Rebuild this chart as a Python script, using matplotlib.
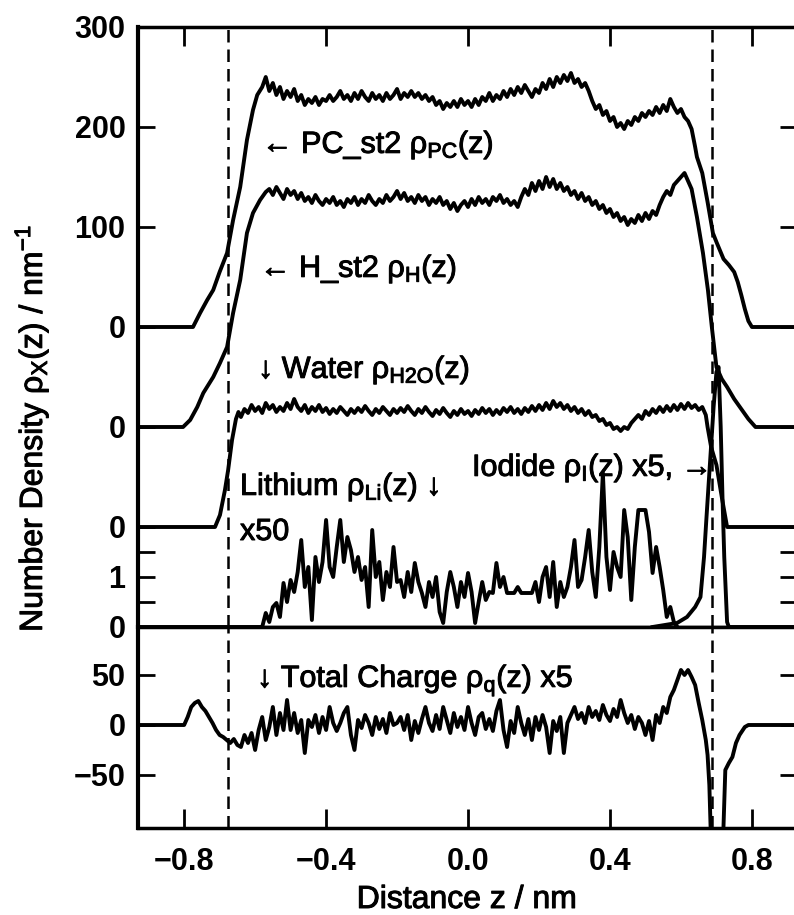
import numpy as np
import matplotlib
matplotlib.use("Agg")
import matplotlib.pyplot as plt
import matplotlib.patheffects as pe

plt.rcParams['font.family'] = ['Liberation Sans', 'DejaVu Sans']
plt.rcParams['mathtext.fontset'] = 'custom'
plt.rcParams['mathtext.rm'] = 'Liberation Sans'
plt.rcParams['mathtext.it'] = 'Liberation Sans'
plt.rcParams['mathtext.default'] = 'regular'

step = 0.01

#PC_st2 density
pc_left_x = [-0.93, -0.775, -0.755, -0.735, -0.718, -0.70, -0.679, -0.662, -0.642, -0.623, -0.606, -0.594]
pc_left_y = [0, 0, 14, 27, 37, 55, 74, 107, 140, 187, 217, 232]
pc_start = -0.58
pc_plateau = [240, 250, 236, 244, 232, 240, 228, 236, 230, 238,
              226, 232, 222, 228, 224, 230, 222, 228, 226, 232,
              226, 230, 236, 228, 232, 226, 234, 228, 236, 230,
              226, 234, 228, 232, 226, 234, 228, 232, 238, 228,
              234, 230, 236, 230, 234, 228, 232, 226, 230, 222,
              226, 218, 224, 220, 226, 220, 228, 222, 226, 220,
              228, 222, 230, 226, 234, 226, 232, 228, 236, 230,
              238, 232, 240, 234, 242, 236, 230, 238, 234, 244,
              238, 248, 240, 250, 244, 252, 246, 254, 244, 248,
              240, 244, 236, 226, 218, 222, 212, 216, 206, 210,
              200, 204, 198, 206, 202, 210, 206, 214, 210, 216,
              212, 220, 214, 222, 216, 228, 220, 214, 218, 210,
              206]
pc_right_x = [0.63, 0.64, 0.645, 0.66, 0.675, 0.69, 0.70, 0.72, 0.735, 0.75, 0.76, 0.77, 0.78, 0.79, 0.80, 0.93]
pc_right_y = [198, 180, 170, 154, 125, 94, 85, 68, 62, 55, 45, 32, 18, 6, 0, 0]

#H_st2 density
h_left_x = [-0.93, -0.803, -0.783, -0.763, -0.746, -0.718, -0.699, -0.679, -0.662, -0.642, -0.623, -0.606, -0.586, -0.57]
h_left_y = [0, 0, 7, 20, 34, 50, 64, 80, 114, 147, 194, 214, 227, 235]
h_start = -0.56
h_plateau = [238, 232, 240, 234, 228, 238, 232, 236, 228, 234,
             226, 230, 224, 232, 226, 222, 228, 224, 230, 222,
             226, 220, 228, 224, 230, 222, 228, 224, 232, 226,
             222, 228, 224, 232, 226, 230, 236, 228, 234, 226,
             230, 224, 232, 226, 230, 222, 228, 224, 230, 222,
             226, 218, 224, 216, 222, 226, 220, 228, 222, 230,
             224, 228, 222, 230, 226, 232, 224, 228, 222, 226,
             220, 230, 238, 232, 244, 236, 246, 238, 250, 240,
             248, 238, 244, 236, 240, 232, 236, 228, 234, 226,
             230, 222, 226, 218, 222, 214, 218, 210, 214, 206,
             210, 202, 208, 204, 212, 206, 214, 208, 216, 212,
             222, 230, 236, 232, 242, 246, 250, 254, 246]
h_right_x = [0.63, 0.645, 0.662, 0.676, 0.687, 0.70, 0.715, 0.73, 0.75, 0.77, 0.79, 0.81, 0.93]
h_right_y = [238, 210, 174, 137, 100, 60, 48, 40, 28, 18, 8, 0, 0]

#Water density
w_left_x = [-0.93, -0.713, -0.699, -0.685, -0.676, -0.665, -0.654, -0.647]
w_left_y = [0, 0, 12, 37, 57, 87, 108, 115]
w_start = -0.64
w_plateau = [110, 118, 114, 122, 116, 120, 114, 124, 118, 122,
             115, 120, 116, 124, 118, 128, 120, 116, 122, 114,
             120, 116, 122, 115, 119, 113, 118, 114, 120, 116,
             112, 118, 114, 119, 115, 121, 116, 112, 118, 114,
             120, 116, 112, 118, 114, 119, 115, 121, 116, 112,
             118, 114, 120, 115, 111, 117, 113, 119, 114, 110,
             116, 112, 118, 113, 116, 111, 117, 113, 119, 114,
             118, 112, 117, 113, 119, 115, 120, 114, 118, 113,
             119, 115, 121, 116, 122, 117, 124, 118, 126, 120,
             124, 118, 122, 116, 120, 114, 118, 112, 116, 110,
             112, 106, 108, 102, 104, 98, 100, 96, 100, 98,
             104, 108, 112, 108, 116, 112, 118, 114, 120, 115,
             121, 116, 122, 117, 123, 118, 124, 119, 122, 117,
             120]
w_right_x = [0.67, 0.675, 0.685, 0.70, 0.715, 0.73, 0.93]
w_right_y = [112, 100, 80, 62, 30, 0, 0]

#Lithium density x50
li_start = -0.58
li_values = [0.0, 0.28, 0.1, 0.4, 0.48, 0.2, 0.88, 0.5, 0.94, 0.7,
             1.1, 1.74, 0.8, 1.2, 0.14, 1.4, 0.9, 1.3, 2.14, 1.2,
             1.0, 1.6, 2.14, 1.3, 1.8, 1.54, 1.1, 1.4, 0.94, 1.2,
             0.4, 1.94, 1.0, 1.3, 0.54, 1.1, 0.8, 1.6, 0.9, 0.94,
             0.6, 1.1, 0.7, 1.28, 0.9, 0.68, 0.4, 0.9, 0.6, 1.0,
             0.3, 0.08, 0.7, 1.1, 0.8, 0.4, 0.9, 0.6, 1.08, 0.7,
             0.08, 0.5, 0.9, 0.54, 0.7, 0.68, 1.28, 0.8, 1.0, 0.68,
             0.68, 0.68, 0.8, 0.68, 0.68, 0.68, 0.68, 0.9, 0.5, 1.0,
             1.2, 0.6, 1.3, 0.4, 0.9, 0.6, 0.8, 1.2, 1.74, 0.8,
             0.94, 1.4, 1.94, 1.1, 0.6, 1.6, 3.08, 1.4, 0.74, 1.5,
             1.2, 1.0, 2.34, 1.8, 0.54, 1.6, 2.34, 2.34, 2.34, 1.9,
             1.08, 1.6, 1.2, 0.74, 0.2, 0.4, 0.1, 0.0]

#Iodide density x5
io_x = [0.52, 0.589, 0.617, 0.64, 0.655, 0.665, 0.672, 0.682, 0.692, 0.70, 0.706, 0.712, 0.717, 0.722, 0.73, 0.735, 0.93]
io_y = [0, 0.08, 0.2, 0.4, 0.6, 1.4, 2.2, 3.3, 4.4, 5.1, 5.2, 4.0, 2.6, 1.4, 0.1, 0, 0]

#Total charge x5
q_left_x = [-0.93, -0.80, -0.79, -0.78, -0.77, -0.76, -0.75, -0.74, -0.73, -0.72, -0.71, -0.70, -0.69, -0.68, -0.67, -0.66, -0.65]
q_left_y = [0, 0, 8, 18, 22, 24, 18, 14, 8, 2, -5, -10, -12, -15, -18, -14, -20]
q_start = -0.64
q_plateau = [-22, -10, -18, -8, -25, -5, 8, -15, -2, 18,
             -10, 12, -5, 25, -5, 12, -8, 5, -28, 5,
             -2, 10, -8, 8, -5, 18, 2, -6, 2, 12,
             18, -10, -25, 5, -3, 10, 2, -10, 8, -4,
             6, -8, 12, 0, 2, 8, -5, 10, -15, 4,
             -8, 6, 18, 2, -6, 10, -4, 18, 5, -8,
             12, -2, 8, -5, 18, 2, -10, 8, 12, -4,
             6, -6, 14, 25, -5, -22, 4, -8, 18, 2,
             -10, 6, -15, 8, -5, 10, -2, -28, 4, -6,
             8, -28, 2, 10, 18, 6, 12, 2, 18, 8,
             14, 5, 20, 10, 4, 16, 8, 25, 12, 2,
             10, -4, 8, 2, -10, 4, -15, 10, 2, 18,
             12, 28, 35, 45, 55, 50, 55, 48, 40, 22,
             5]
q_right_x = [0.67, 0.675, 0.68, 0.685, 0.70, 0.715, 0.72, 0.725, 0.735, 0.745, 0.755, 0.765, 0.78, 0.79, 0.93]
q_right_y = [-15, -30, -60, -120, -160, -160, -100, -45, -38, -32, -18, -10, -2, 0, 0]

#Offsets of stacked curves in the top panel
off_h = -100
off_w = -200
off_li = -300
li_scale = 50

interface_x = [-0.676, 0.687]
xticks = [-0.8, -0.4, 0.0, 0.4, 0.8]
xtick_labels = ['\u22120.8', '\u22120.4', '0.0', '0.4', '0.8']
top_yticks = [300, 200, 100, 0, -100, -200, -225, -250, -275, -300]
top_ylabels = ['300', '200', '100', '0', '0', '0', '', '1', '', '0']
bot_yticks = [50, 0, -50]
bot_ylabels = ['50', '0', '\u221250']


def build(left_x, left_y, start, vals, right_x=None, right_y=None):
    px = np.round(start + step * np.arange(len(vals)), 3)
    xs = list(left_x) + list(px)
    ys = list(left_y) + list(vals)
    if right_x is not None:
        xs += list(right_x)
        ys += list(right_y)
    return np.array(xs), np.array(ys, dtype=float)


pcX, pcY = build(pc_left_x, pc_left_y, pc_start, pc_plateau, pc_right_x, pc_right_y)
hX, hY = build(h_left_x, h_left_y, h_start, h_plateau, h_right_x, h_right_y)
wX, wY = build(w_left_x, w_left_y, w_start, w_plateau, w_right_x, w_right_y)
liX, liY = build([-0.93], [0], li_start, li_values)
qX, qY = build(q_left_x, q_left_y, q_start, q_plateau, q_right_x, q_right_y)

#Figure layout in pixels
W, H = 794, 915
def rect(l, t, r, b):
    return [l / W, 1 - b / H, (r - l) / W, (b - t) / H]

fig = plt.figure(figsize=(W / 100, H / 100), dpi=100)
ax1 = fig.add_axes(rect(138, 27, 797, 627))
ax2 = fig.add_axes(rect(138, 627, 797, 828))

lw = 2.8
ax1.plot(pcX, pcY, color='black', lw=lw)
ax1.plot(hX, hY + off_h, color='black', lw=lw)
ax1.plot(wX, wY + off_w, color='black', lw=lw)
ax1.plot(liX, liY * li_scale + off_li, color='black', lw=lw, clip_on=False)
ax1.plot(io_x, np.array(io_y) * li_scale + off_li, color='black', lw=lw, clip_on=False)
ax2.plot(qX, qY, color='black', lw=lw)

for ax in (ax1, ax2):
    for xv in interface_x:
        ax.axvline(xv, color='black', lw=1.8, linestyle=(0, (5, 2.8)))
    ax.set_xlim(-0.93, 0.927)
    for s in ax.spines.values():
        s.set_linewidth(2.5)
    ax.spines['left'].set_linewidth(3.0)
    ax.set_xticks(xticks)

ax1.set_ylim(-300, 300)
ax2.set_ylim(-103, 98)

ax1.set_yticks(top_yticks)
ax1.set_yticklabels(top_ylabels, fontsize=22, fontweight='bold')
ax1.tick_params(axis='y', direction='in', length=12, width=2, left=True, right=True, pad=9)
ax1.tick_params(axis='x', direction='in', length=14, width=2, top=True, bottom=False, labelbottom=False)

ax2.set_yticks(bot_yticks)
ax2.set_yticklabels(bot_ylabels, fontsize=22, fontweight='bold')
ax2.tick_params(axis='y', direction='in', length=12, width=2, left=True, right=True, pad=9)
ax2.set_xticklabels(xtick_labels, fontsize=22, fontweight='bold')
ax2.tick_params(axis='x', direction='in', length=14, width=2, top=False, bottom=True, pad=14)

#Labels, placed by pixel position
heavy = [pe.withStroke(linewidth=0.7, foreground='black')]

def ptext(x, y, s, **kw):
    fig.text(x / W, 1 - y / H, s, fontsize=22, va='baseline', path_effects=heavy, **kw)

ptext(262, 153, '\u2190 PC_st2 $\u03c1_{PC}(z)$')
ptext(260, 277, '\u2190 H_st2 $\u03c1_{H}(z)$')
ptext(258, 378, '\u2193 Water $\u03c1_{H2O}(z)$')
ptext(240, 495, 'Lithium $\u03c1_{Li}(z)$ \u2193')
ptext(240, 540, 'x50')
ptext(472, 476, 'Iodide $\u03c1_{I}(z)$ x5, \u2192')
ptext(257, 687, '\u2193 Total Charge $\u03c1_{q}(z)$ x5')

fig.text(467 / W, 1 - 908 / H, 'Distance z / nm', fontsize=23, ha='center', va='baseline',
         path_effects=heavy)
fig.text(32 / W, 1 - 428 / H, 'Number Density $\u03c1_X(z)$ / nm$^{-1}$', fontsize=23,
         rotation=90, ha='center', va='center', path_effects=heavy)

fig.savefig('out.png', dpi=100)
